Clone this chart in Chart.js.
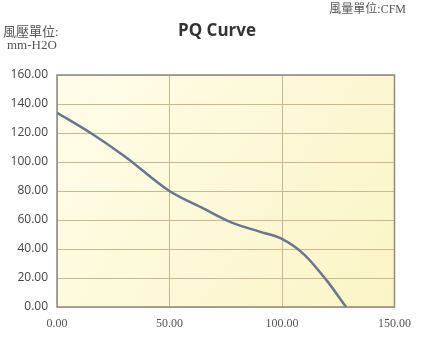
<!DOCTYPE html>
<html>
<head>
<meta charset="utf-8">
<script src="https://cdn.jsdelivr.net/npm/chart.js@4/dist/chart.umd.min.js"></script>
<style>
    html, body { margin: 0; padding: 0; background: #ffffff; }
    #wrap { width: 421px; height: 353px; position: relative; }
</style>
</head>
<body>
<div id="wrap"><canvas id="pqChart" width="421" height="353"></canvas></div>
<script>
// Airflow (CFM) vs static pressure (mm-H2O)
const airflow = [0, 15, 30, 50, 65, 78, 90, 100, 110, 120, 128.5];
const pressure = [134, 120, 104, 80, 68, 58, 52, 47, 36, 18, 0];

const yTicks = [0, 20, 40, 60, 80, 100, 120, 140, 160];
const xTicks = [0, 50, 100, 150];

const titleText = 'PQ Curve';
const pressureUnit = ['風壓單位:', 'mm-H2O'];
const flowUnit = '風量單位:CFM';

const points = airflow.map((x, i) => ({ x: x, y: pressure[i] }));

// Plot background + frame + unit labels
const decorPlugin = {
    id: 'decor',
    beforeDraw(chart) {
        const { ctx, chartArea: a } = chart;
        ctx.save();
        const g = ctx.createLinearGradient(a.left, a.top, a.right, a.bottom);
        g.addColorStop(0, '#fefde9');
        g.addColorStop(1, '#fbf4c6');
        ctx.fillStyle = g;
        ctx.fillRect(a.left, a.top, a.right - a.left, a.bottom - a.top);
        ctx.restore();
    },
    beforeDatasetsDraw(chart) {
        const { ctx, chartArea: a } = chart;
        ctx.save();
        ctx.strokeStyle = '#8f8a84';
        ctx.lineWidth = 1.5;
        ctx.strokeRect(a.left, a.top, a.right - a.left, a.bottom - a.top);
        ctx.restore();
    },
    afterDraw(chart) {
        const ctx = chart.ctx;
        ctx.save();
        ctx.fillStyle = '#333333';
        ctx.font = 'bold 17px "Open Sans", sans-serif';
        ctx.textAlign = 'center';
        ctx.textBaseline = 'middle';
        ctx.fillText(titleText, 217, 31);

        ctx.fillStyle = '#555555';
        ctx.font = '12px "Liberation Serif", "Noto Sans CJK TC", serif';
        ctx.textAlign = 'right';
        ctx.fillText(flowUnit, 406, 10);

        ctx.font = '13px "Liberation Serif", "Noto Sans CJK TC", serif';
        ctx.textAlign = 'left';
        ctx.fillText(pressureUnit[0], 3, 33);
        ctx.fillText(pressureUnit[1], 7, 46);
        ctx.restore();
    }
};

new Chart(document.getElementById('pqChart').getContext('2d'), {
    type: 'scatter',
    data: {
        datasets: [{
            label: 'PQ',
            data: points,
            showLine: true,
            borderColor: '#6b7590',
            borderWidth: 2.5,
            pointRadius: 0,
            cubicInterpolationMode: 'monotone',
            fill: false
        }]
    },
    options: {
        responsive: false,
        animation: false,
        layout: { padding: { top: 75, right: 20, left: 0, bottom: 0 } },
        plugins: {
            legend: { display: false },
            title: { display: false },
            tooltip: { enabled: false }
        },
        scales: {
            x: {
                type: 'linear',
                min: 0,
                max: 150,
                afterBuildTicks: s => { s.ticks = xTicks.map(v => ({ value: v })); },
                afterFit: s => { s.height = 46; },
                grid: { color: '#cbb88e', lineWidth: 1, drawTicks: false },
                border: { display: false },
                ticks: {
                    padding: 10,
                    color: '#555555',
                    font: { family: '"Liberation Serif", serif', size: 12 },
                    callback: v => Number(v).toFixed(2)
                }
            },
            y: {
                type: 'linear',
                min: 0,
                max: 160,
                afterBuildTicks: s => { s.ticks = yTicks.map(v => ({ value: v })); },
                afterFit: s => { s.width = 57; },
                grid: { color: '#cbb88e', lineWidth: 1, drawTicks: false },
                border: { display: false },
                ticks: {
                    padding: 9,
                    color: '#444444',
                    font: { family: '"Open Sans", sans-serif', size: 12 },
                    callback: v => Number(v).toFixed(2)
                }
            }
        }
    },
    plugins: [decorPlugin]
});
</script>
</body>
</html>
